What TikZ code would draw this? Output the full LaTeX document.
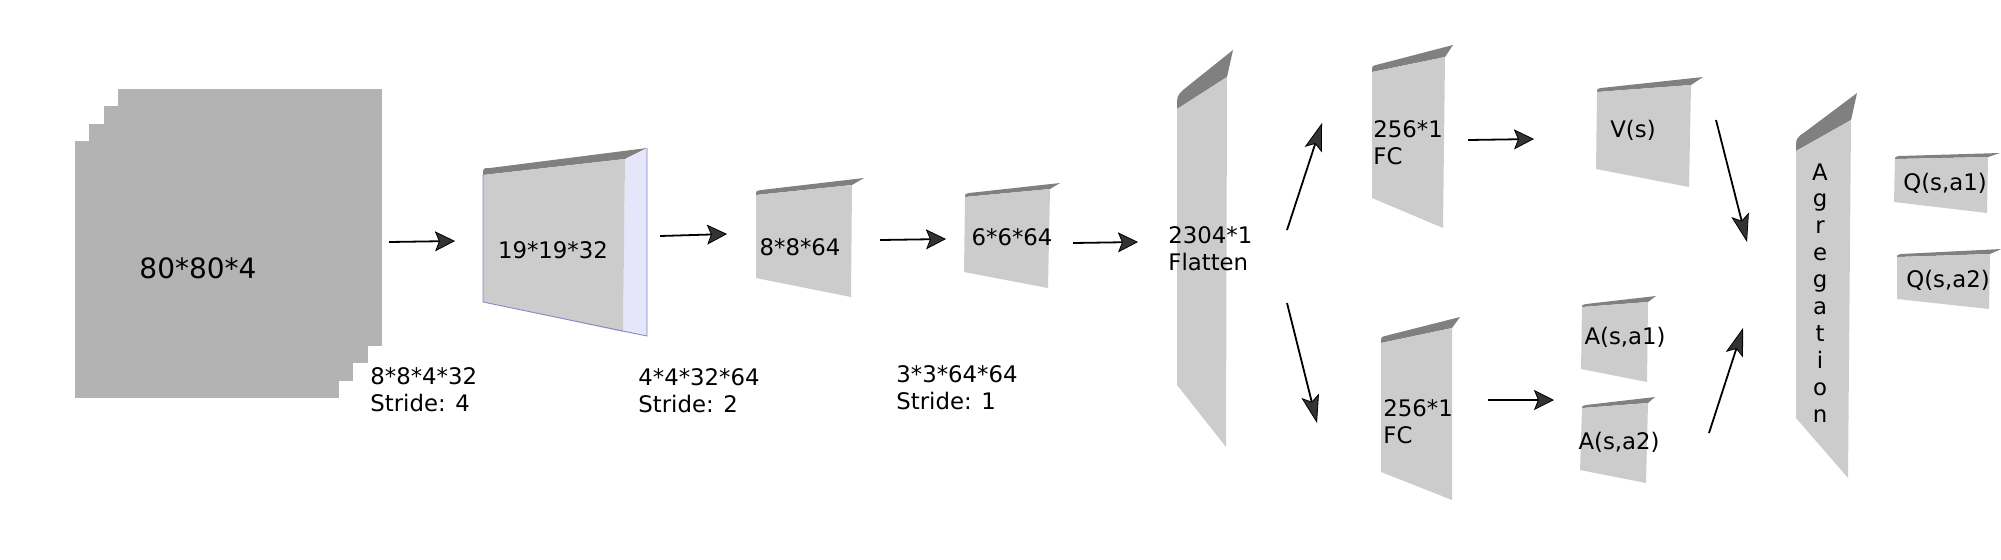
\documentclass[tikz,border=0pt]{standalone}
\usepackage{fontspec}
\setmainfont{DejaVu Sans}
\definecolor{mapgray}{RGB}{179,179,179}
\definecolor{facegray}{RGB}{204,204,204}
\definecolor{topgray}{RGB}{128,128,128}
\definecolor{sidelav}{RGB}{230,230,250}
\definecolor{edgeblue}{RGB}{130,130,200}
\definecolor{headgray}{RGB}{51,51,51}
\usetikzlibrary{arrows.meta,positioning,calc}

\begin{document}
\begin{tikzpicture}[
  x=0.5pt,y=-0.5pt,
  every node/.style={font=\fontsize{11.4}{13.5}\selectfont,inner sep=0pt},
  inputmap/.style={fill=mapgray},
  face/.style={fill=facegray},
  topface/.style={fill=topgray},
  flow/.style={-{Stealth[length=10pt,width=10pt,inset=2pt,fill=headgray,line width=0.4pt]},line width=0.9pt},
  flowdiag/.style={-{Stealth[length=14pt,width=9pt,inset=3pt,fill=headgray,line width=0.4pt]},line width=0.9pt},
]
  \useasboundingbox (0,0) rectangle (2001,559);
  % Input frames (stack of 4)
  \foreach \i in {0,...,3}
    \fill[inputmap] ({118-14.3*\i},{89+17.3*\i}) rectangle +(264,257);
  \node[font=\fontsize{14}{16}\selectfont] (input) at (198,268) {80*80*4};
  \node[anchor=north west,align=left] (k1) at (370,367) {8*8*4*32\\Stride: 4};
  % Conv 1
  \fill[topface] (483,175) -- (625,159) -- (647,148) -- (490,168) .. controls (483,168) .. (483,175) -- cycle;
  \fill[sidelav] (625,159) -- (647,148) -- (647,336) -- (623,332) -- cycle;
  \fill[face] (483,175) -- (625,159) -- (623,332) -- (483,302) -- cycle;
  \draw[edgeblue,line width=0.4pt] (483,175) -- (483,302) -- (647,336) -- (647,148);
  \node (conv1) at (553,250) {19*19*32};
  \node[anchor=north west,align=left] (k2) at (638,368) {4*4*32*64\\Stride: 2};
  % Conv 2
  \fill[topface] (756,195) -- (852,185) -- (864,178) -- (761,190) .. controls (756,191) .. (756,195) -- cycle;
  \fill[face] (756,195) -- (852,185) -- (851,297) -- (756,278) -- cycle;
  \node (conv2) at (800,247) {8*8*64};
  % Conv 3
  \fill[topface] (965,197) -- (1050,189) -- (1060,183) -- (969,193) .. controls (965,194) .. (965,197) -- cycle;
  \fill[face] (965,197) -- (1050,189) -- (1048,288) -- (964,272) -- cycle;
  \node (conv3) at (1012,237) {6*6*64};
  \node[anchor=north west,align=left] (k3) at (896,365) {3*3*64*64\\Stride: 1};
  % Flatten
  \fill[topface] (1177,109) -- (1227,77) -- (1233,50) -- (1183,90) .. controls (1177,96) .. (1177,109) -- cycle;
  \fill[face] (1177,109) -- (1227,77) -- (1226,447) -- (1177,385) -- cycle;
  \node[anchor=north west,align=left] (flat) at (1168,226) {2304*1\\Flatten};
  % Fully connected layers
  \fill[topface] (1372,72) -- (1445,57) -- (1453,45) -- (1376,65) .. controls (1372,66) .. (1372,72) -- cycle;
  \fill[face] (1372,72) -- (1445,57) -- (1443,228) -- (1372,198) -- cycle;
  \node[anchor=north west,align=left] (fcv) at (1373,120) {256*1\\FC};
  \fill[topface] (1381,343) -- (1452,328) -- (1460,317) -- (1385,336) .. controls (1381,337) .. (1381,343) -- cycle;
  \fill[face] (1381,343) -- (1452,328) -- (1452,500) -- (1381,472) -- cycle;
  \node[anchor=north west,align=left] (fca) at (1383,399) {256*1\\FC};
  % Value and advantage streams
  \fill[topface] (1597,92) -- (1691,85) -- (1703,77) -- (1601,88) .. controls (1597,89) .. (1597,92) -- cycle;
  \fill[face] (1597,92) -- (1691,85) -- (1689,187) -- (1596,169) -- cycle;
  \node (value) at (1633,130) {V(s)};
  \fill[topface] (1582,307) -- (1648,302) -- (1656,296) -- (1586,304) .. controls (1582,305) .. (1582,307) -- cycle;
  \fill[face] (1582,307) -- (1648,302) -- (1647,382) -- (1581,369) -- cycle;
  \node (adv1) at (1625,337) {A(s,a1)};
  \fill[topface] (1582,408) -- (1648,403) -- (1655,397) -- (1586,405) .. controls (1582,406) .. (1582,408) -- cycle;
  \fill[face] (1582,408) -- (1648,403) -- (1646,483) -- (1580,470) -- cycle;
  \node (adv2) at (1619,442) {A(s,a2)};
  % Aggregation
  \fill[topface] (1796,151) -- (1851,120) -- (1857,93) -- (1805,132) .. controls (1796,138) .. (1796,151) -- cycle;
  \fill[face] (1796,151) -- (1851,120) -- (1848,478) -- (1796,418) -- cycle;
  \node[anchor=north,align=center,font=\fontsize{11.4}{13.45}\selectfont] (agg) at (1820,163)
    {A\\g\\r\\e\\g\\a\\t\\i\\o\\n};
  % Outputs
  \fill[topface] (1895,159) -- (1988,157) -- (2000,153) -- (1899,156) .. controls (1895,157) .. (1895,159) -- cycle;
  \fill[face] (1895,159) -- (1988,157) -- (1987,213) -- (1894,202) -- cycle;
  \node (q1) at (1945,183) {Q(s,a1)};
  \fill[topface] (1897,257) -- (1990,254) -- (2001,249) -- (1901,254) .. controls (1897,255) .. (1897,257) -- cycle;
  \fill[face] (1897,257) -- (1990,254) -- (1989,309) -- (1897,299) -- cycle;
  \node (q2) at (1948,280) {Q(s,a2)};
  % Arrow ends
  \coordinate (in-out) at (389,242);   \coordinate (c1-in) at (455,241);
  \coordinate (c1-out) at (660,236);   \coordinate (c2-in) at (727,234);
  \coordinate (c2-out) at (880,240);   \coordinate (c3-in) at (946,239);
  \coordinate (c3-out) at (1073,243);  \coordinate (fl-in) at (1138,242);
  \coordinate (fl-up) at (1287,230);   \coordinate (fcv-in) at (1322,123);
  \coordinate (fl-dn) at (1287,303);   \coordinate (fca-in) at (1317,423);
  \coordinate (fcv-out) at (1468,140); \coordinate (v-in) at (1534,139);
  \coordinate (fca-out) at (1488,400); \coordinate (a-in) at (1554,400);
  \coordinate (v-out) at (1716,120);   \coordinate (agg-v) at (1747,242);
  \coordinate (a-out) at (1709,433);   \coordinate (agg-a) at (1743,328);
  % Arrows
  \draw[flow] (in-out) -- (c1-in);
  \draw[flow] (c1-out) -- (c2-in);
  \draw[flow] (c2-out) -- (c3-in);
  \draw[flow] (c3-out) -- (fl-in);
  \draw[flowdiag] (fl-up) -- (fcv-in);
  \draw[flowdiag] (fl-dn) -- (fca-in);
  \draw[flow] (fcv-out) -- (v-in);
  \draw[flow] (fca-out) -- (a-in);
  \draw[flowdiag] (v-out) -- (agg-v);
  \draw[flowdiag] (a-out) -- (agg-a);
\end{tikzpicture}
\end{document}
